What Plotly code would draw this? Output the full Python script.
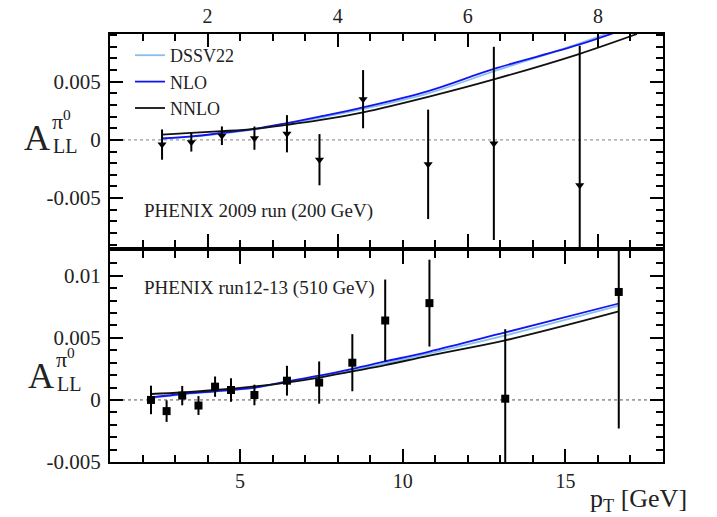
import plotly.graph_objects as go

# ---- PHENIX 2009 run, sqrt(s) = 200 GeV ----
pt_200 = [1.30, 1.75, 2.22, 2.72, 3.22, 3.72, 4.39, 5.39, 6.40, 7.72]
all_200 = [-0.0004, -0.0002, 0.00036, 0.00015, 0.00053, -0.0017, 0.0035, -0.0021, -0.0003, -0.0039]
err_200 = [0.0013, 0.0008, 0.0008, 0.0010, 0.0016, 0.0022, 0.0025, 0.0047, 0.0083, 0.0120]

# theory curves, 200 GeV
th_pt_200 = [1.30, 1.75, 2.22, 2.72, 3.22, 3.72, 4.39, 5.39, 6.40, 7.72, 8.60]
dssv_200 = [0.00010, 0.00028, 0.00055, 0.00090, 0.00140, 0.00190, 0.00266, 0.00400, 0.00590, 0.00830, 0.01010]
nlo_200 = [0.00012, 0.00030, 0.00060, 0.00095, 0.00145, 0.00200, 0.00280, 0.00420, 0.00610, 0.00820, 0.00990]
nnlo_200 = [0.00045, 0.00060, 0.00075, 0.00095, 0.00130, 0.00170, 0.00237, 0.00370, 0.00520, 0.00740, 0.00910]

# ---- PHENIX run12-13, sqrt(s) = 510 GeV ----
pt_510 = [2.26, 2.74, 3.22, 3.72, 4.23, 4.72, 5.44, 6.44, 7.43, 8.45, 9.46, 10.82, 13.15, 16.64]
all_510 = [0.0000, -0.0009, 0.00035, -0.00045, 0.00107, 0.0008, 0.0004, 0.00155, 0.0014,
           0.0030, 0.0064, 0.0078, 0.0001, 0.0087]
err_510 = [0.00115, 0.00087, 0.00078, 0.00076, 0.00082, 0.00095, 0.00083, 0.0012, 0.0017,
           0.0023, 0.0033, 0.0035, 0.0056, 0.0110]

# theory curves, 510 GeV
th_pt_510 = [2.26, 3.22, 4.23, 5.44, 6.44, 7.43, 8.45, 9.46, 10.82, 13.15, 16.64]
dssv_510 = [0.00015, 0.00045, 0.00068, 0.00098, 0.00145, 0.00190, 0.00240, 0.00295, 0.00375, 0.00520, 0.00760]
nlo_510 = [0.00020, 0.00048, 0.00070, 0.00100, 0.00150, 0.00195, 0.00250, 0.00310, 0.00390, 0.00544, 0.00777]
nnlo_510 = [0.00048, 0.00060, 0.00080, 0.00110, 0.00140, 0.00180, 0.00230, 0.00280, 0.00358, 0.00480, 0.00713]

# axis ranges and ticks
x_range_200 = [0.5, 9.0]
x_range_510 = [1, 18]
y_range_200 = [-0.0092, 0.0091]
y_range_510 = [-0.005, 0.012]
x_ticks_200 = [2, 4, 6, 8]
x_ticks_510 = [5, 10, 15]
y_ticks_200 = [-0.005, 0, 0.005]
y_text_200 = ["-0.005", "0", "0.005"]
y_ticks_510 = [-0.005, 0, 0.005, 0.01]
y_text_510 = ["-0.005", "0", "0.005", "0.01"]

FONT = "Liberation Serif, Times New Roman, serif"
TXT = "#222222"
C_DSSV = "#86bfee"
C_NLO = "#1414f0"
C_NNLO = "#111111"

W, H = 717, 517
ML, MR, MT, MB = 110, 54, 34, 55
PW, PH = W - ML - MR, H - MT - MB


def px_x(px):
    return (px - ML) / PW


def px_y(py):
    return (H - MB - py) / PH


fig = go.Figure()

# dotted zero reference lines across each panel
fig.add_trace(go.Scatter(x=x_range_200, y=[0, 0], mode="lines", showlegend=False,
                         hoverinfo="skip", line=dict(color="#9a9a9a", width=1.2, dash="dot"),
                         xaxis="x", yaxis="y"))
fig.add_trace(go.Scatter(x=x_range_510, y=[0, 0], mode="lines", showlegend=False,
                         hoverinfo="skip", line=dict(color="#555555", width=1, dash="dot"),
                         xaxis="x2", yaxis="y2"))

curves = [("DSSV22", C_DSSV, dssv_200, dssv_510),
          ("NLO", C_NLO, nlo_200, nlo_510),
          ("NNLO", C_NNLO, nnlo_200, nnlo_510)]
for name, col, y200, y510 in curves:
    fig.add_trace(go.Scatter(x=th_pt_200, y=y200, mode="lines", name=name,
                             line=dict(color=col, width=1.8, shape="spline"),
                             xaxis="x", yaxis="y", showlegend=True))
    fig.add_trace(go.Scatter(x=th_pt_510, y=y510, mode="lines", name=name,
                             line=dict(color=col, width=1.8, shape="spline"),
                             xaxis="x2", yaxis="y2", showlegend=False))

fig.add_trace(go.Scatter(
    x=pt_200, y=all_200, mode="markers", showlegend=False,
    marker=dict(symbol="triangle-down", size=8, color="black"),
    error_y=dict(type="data", array=err_200, color="black", thickness=2, width=0),
    xaxis="x", yaxis="y"))
fig.add_trace(go.Scatter(
    x=pt_510, y=all_510, mode="markers", showlegend=False,
    marker=dict(symbol="square", size=8, color="black"),
    error_y=dict(type="data", array=err_510, color="black", thickness=2, width=0),
    xaxis="x2", yaxis="y2"))

xfont = dict(family=FONT, size=20, color=TXT)
yfont = dict(family=FONT, size=21, color=TXT)


def minor(step):
    return dict(ticks="inside", ticklen=7, tickwidth=2, tickcolor="black", dtick=step)


# inside ticks repeated on all four sides of each frame
axis_style = dict(ticks="inside", ticklen=13, tickwidth=2, tickcolor="black",
                  showgrid=False, zeroline=False, automargin=False,
                  showline=True, linecolor="black", linewidth=2, mirror="allticks")

top_dom = [px_y(247), 1]
bot_dom = [0, px_y(251)]

fig.update_layout(
    width=W, height=H,
    margin=dict(l=ML, r=MR, t=MT, b=MB),
    paper_bgcolor="white", plot_bgcolor="white",
    font=dict(family=FONT, color=TXT),
    xaxis=dict(range=x_range_200, domain=[0, 1], anchor="y", side="top",
               tickvals=x_ticks_200, ticklabelstandoff=1, tickfont=xfont,
               minor=minor(0.5), **axis_style),
    yaxis=dict(range=y_range_200, domain=top_dom, anchor="x",
               tickvals=y_ticks_200, ticktext=y_text_200, ticklabelstandoff=3,
               tickfont=yfont, minor=minor(0.001), **axis_style),
    xaxis2=dict(range=x_range_510, domain=[0, 1], anchor="y2",
                tickvals=x_ticks_510, ticklabelstandoff=0, tickfont=xfont,
                minor=minor(1), **axis_style),
    yaxis2=dict(range=y_range_510, domain=bot_dom, anchor="x2",
                tickvals=y_ticks_510, ticktext=y_text_510, ticklabelstandoff=3,
                tickfont=yfont, minor=minor(0.001), **axis_style),
    legend=dict(x=px_x(130), y=px_y(37), xanchor="left", yanchor="top",
                bgcolor="rgba(0,0,0,0)", borderwidth=0, tracegroupgap=0,
                font=dict(family=FONT, size=18, color=TXT)),
)

ann = []


def label(text, px, py, size, xanchor="left", yanchor="middle"):
    ann.append(dict(text=text, x=px_x(px), y=px_y(py), xref="paper", yref="paper",
                    xanchor=xanchor, yanchor=yanchor, showarrow=False,
                    font=dict(family=FONT, size=size, color=TXT)))


# panel titles
label("PHENIX 2009 run (200 GeV)", 142, 211, 19)
label("PHENIX run12-13 (510 GeV)", 142, 288, 19)

# y-axis titles  A_LL^{pi0}
for (ax, ay) in [(37, 138), (41, 376)]:
    label("A", ax, ay, 36, xanchor="center")
    label("π<sup>0</sup>", ax + 13, ay - 18, 22)
    label("LL", ax + 14, ay + 8, 20)

# x-axis title
label("p<sub>T</sub> [GeV]", 689, 500, 26, xanchor="right")

fig.update_layout(annotations=ann)

fig.write_html("out.html")
